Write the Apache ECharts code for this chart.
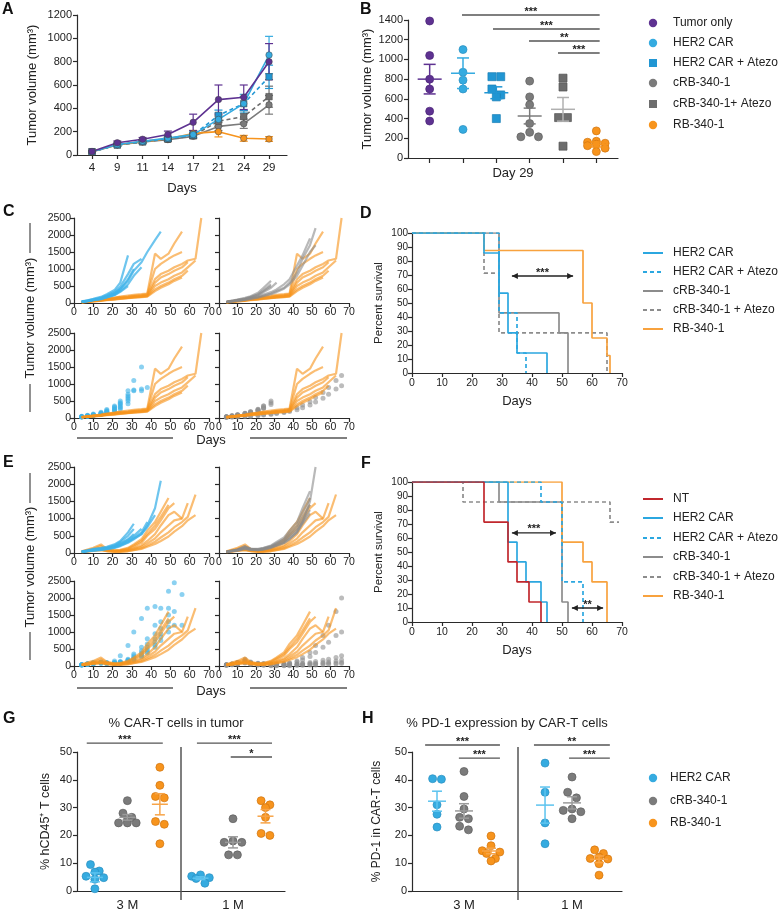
<!DOCTYPE html>
<html><head><meta charset="utf-8"><title>Figure</title>
<script src="https://cdn.jsdelivr.net/npm/echarts@6.0.0/dist/echarts.min.js"></script>
<style>html,body{margin:0;padding:0;background:#fff;}#c{width:784px;height:912px;}</style>
</head><body><div id="c"></div>
<script>
// ================= DATA =================
// Panel A : mean tumour volume (mm3) per day +/- SEM
const daysA = ['4','9','11','14','17','21','24','29'];
const aTumorOnly    = [30,105,135,175,280,475,495,800];
const aTumorOnlyErr = [8,15,15,30,70,125,105,155];
const aHer2         = [28,90,118,145,175,305,440,857];
const aHer2Err      = [8,12,12,15,25,55,80,160];
const aHer2Atezo    = [28,86,115,140,170,340,440,670];
const aHer2AtezoErr = [8,12,12,15,20,45,60,100];
const aCrb          = [28,86,112,132,160,245,268,430];
const aCrbErr       = [8,10,10,15,20,35,40,80];
const aCrbAtezo     = [28,86,112,135,165,290,330,500];
const aCrbAtezoErr  = [8,10,10,15,20,45,50,90];
const aRb           = [28,88,115,140,185,200,143,137];
const aRbErr        = [8,10,12,15,25,45,25,20];

// Panel B : day 29 individual tumours
const bGroups     = ['Tumor only','HER2 CAR','HER2 CAR + Atezo','cRB-340-1','cRB-340-1+ Atezo','RB-340-1'];
const bTumorOnly  = [1390,1040,800,700,475,375];
const bHer2       = [1100,870,790,700,290];
const bHer2Atezo  = [825,825,700,640,620,400];
const bCrb        = [780,620,540,350,260,215,215];
const bCrbAtezo   = [810,720,410,410,120];
const bRb         = [275,170,160,150,140,125,100,65];
const bMean       = [800,860,662,426,494,137];
const bSem        = [150,155,60,80,120,25];
const sigB = [
  {x1:0.97,x2:5.1,y:1451,t:'***'},{x1:1.9,x2:5.1,y:1309,t:'***'},
  {x1:2.98,x2:5.1,y:1187,t:'**'},{x1:3.85,x2:5.1,y:1065,t:'***'}];

// Panels C / E : individual tumour growth curves (days x mm3)
const spDays = [4,7,10,14,17,21,24,28,31,35,38,42,45,49,52,56,59,63,66];
const cRb1 = [30,50,70,100,130,160,190,220,240,260,280,1450,1300,1450,1750,2100];
const cRb2 = [30,50,70,90,120,150,170,190,210,230,260,1000,1150,1300,1400,1500];
const cRb3 = [25,45,65,85,110,140,160,180,200,220,240,700,850,950,1050,1150,1250,1300,2500];
const cRb4 = [25,40,60,80,100,120,140,160,180,200,220,600,750,850,950,1050,1200];
const cRb5 = [20,40,55,75,95,115,135,150,170,190,210,500,600,700,800,900,1050,1250];
const cRb6 = [20,35,50,70,90,110,130,150,165,180,200,400,500,600,700,800,950];
const cRb7 = [20,35,50,65,85,100,120,140,160,175,190,350,450,550,650,750];
const cRb8 = [25,40,60,80,110,140,180];
const cHer1 = [50,80,120,180,260,380,600,1400];
const cHer2 = [40,70,110,160,230,330,480,850,1150,1300];
const cHer3 = [40,60,90,140,200,300,420,650,950,1200,1500,1850,2100];
const cHer4 = [35,60,90,130,190,280,400,700,1000];
const cHer5 = [35,55,80,120,170,240,350,550,800,1050];
const cHer6 = [30,50,80,110,160,230,330,500];
const cHer7 = [40,60,90,130,180,260,380];
const cCrb1 = [40,70,100,150,200,300,450,650];
const cCrb2 = [35,60,90,130,180,260,380,550];
const cCrb3 = [35,60,90,120,170,240,350,500];
const cCrb4 = [30,55,80,110,160,220,320,450,600];
const cCrb5 = [30,50,70,100,140,190,250,320,400,550,700,1100,1400,1900];
const cCrb6 = [30,50,70,95,130,170,220,280,350,450,600,900,1300,1700,2200];
const cCrb7 = [25,45,65,90,120,160,200,260,320,420,550,800,1100,1500,1700];
const cHa1 = [50,80,120,170,250,350,500,800,1100,1500];
const cHa2 = [40,60,90,140,200,300,420,600,800,850,900];
const cHa3 = [40,70,100,150,220,320,450,700,820,800];
const cHa4 = [35,60,90,130,180,260,380,650];
const cHa5 = [35,55,80,120,170,250,330,550];
const cHa6 = [30,50,80,110,160,220,300,500];
const cHa7 = [30,50,70,100,140,190,260,420];
const cCa1 = [40,70,100,140,190,260,350];
const cCa2 = [35,60,90,130,170,230,300];
const cCa3 = [35,60,90,130,180,250,350,500];
const cCa4 = [30,55,80,120,160,220,300,450];
const cCa5 = [30,50,75,110,150,200,280,400];
const cCa6 = [20,30,40,50,60,80,100,120,150,180,220,300,380,480,600,750,900,1100,1250];
const cCa7 = [20,30,40,50,55,70,90,110,130,160,190,240,300,380,470,580,700,850,950];

const eRb1 = [50,100,150,250,120,80,90,150,250,400,650,900,1200,1600];
const eRb2 = [40,80,120,200,100,70,80,130,220,350,550,800,1050,1400];
const eRb3 = [40,70,100,150,90,60,70,110,180,300,500,700,950,1300,1450];
const eRb4 = [30,60,90,120,80,50,60,90,140,220,350,550,800,1100,1200,1000];
const eRb5 = [30,50,80,100,70,50,50,80,120,180,280,420,600,800,950,1000,1450];
const eRb6 = [25,45,70,90,60,40,40,60,90,140,220,330,450,600,750,900,1050,1700];
const eRb7 = [25,40,60,80,50,30,30,50,80,120,180,260,350,480,620,780,950,1100];
const eHer1 = [50,80,120,150,180,250,350,600,850];
const eHer2 = [40,70,100,130,160,220,320,500,700];
const eHer3 = [40,60,90,120,150,200,280,400,550];
const eHer4 = [35,60,90,110,140,190,260,380,500,700];
const eHer5 = [35,55,80,100,130,170,230,340,450,600,900];
const eHer6 = [30,50,70,90,120,160,220,320,420,550,750,1100];
const eHer7 = [30,50,70,90,110,150,200,300,400,550,800,1300,2100];
const eCrb1 = [40,70,100,200,120,100,120,180,250];
const eCrb2 = [40,70,100,180,130,120,150,220,320,450,650,900,1300,1800];
const eCrb3 = [35,60,90,160,120,110,140,200,290,400,580,800,1150,1600];
const eCrb4 = [35,60,90,150,110,100,130,190,270,370,520,720,1000,1400];
const eCrb5 = [30,55,80,140,100,90,120,170,240,330,460,650,900,1250];
const eCrb6 = [30,50,75,130,95,85,110,160,220,300,420,600,850,1150];
const eCrb7 = [30,50,70,120,90,80,100,150,210,290,400,600,900,1500,2500];
const eHa1 = [40,70,100,120,100,150,300,600,1000,1400,1700,1750];
const eHa2 = [40,60,90,110,90,100,130,200,350,550,800,1200,1700,2200,2450];
const eHa3 = [35,60,80,100,90,100,120,180,300,450,650,950,1300,1700];
const eHa4 = [35,55,80,100,80,90,110,160,250,380,550,800,1100,1500];
const eHa5 = [30,50,70,90,80,80,100,150,220,330,480,700,950,1300];
const eHa6 = [30,50,70,90,70,70,90,130,200,300,430,620,850,1150,1600,2100];
const eHa7 = [30,45,65,80,70,70,80,120,180,270,380,550,750,1000,1200,1200];
const eCa1 = [40,60,100,150,120];
const eCa2 = [40,60,100,200,100,80,70,60,60,70,90,150,250,400,600,900,1200,1600,2000];
const eCa3 = [35,55,90,180,90,70,60,50,50,60,80,120,180,280,400,550,700,900,1000];
const eCa4 = [30,50,80,150,80,60,50,40,40,40,50,60,80,100,130,170,200,250,300];
const eCa5 = [30,45,70,120,70,50,40,30,30,30,40,50,60,70,80,100,120,150,180];
const eCa6 = [25,40,60,100,60,40,30,20,20,20,20,30,40,50,60,70,80,90,100];
const eCa7 = [25,40,60,90,50,30,20,10,10,10,10,20,20,30,30,40,50,60,70];

// Panel D : survival (day of change, percent)
const dHer2Days = [0,24,29,32,35,45];      const dHer2Pct = [100,85.7,57.1,28.6,14.3,0];
const dHer2AtezoDays = [0,29,35,38];       const dHer2AtezoPct = [100,42.9,14.3,0];
const dCrbDays = [0,29,49,52];             const dCrbPct = [100,42.9,28.6,0];
const dCrbAtezoDays = [0,24,29,65];        const dCrbAtezoPct = [100,71.4,28.6,0];
const dRbDays = [0,24,57,60,65,66];        const dRbPct = [100,87.5,50,25,12.5,0];
const arrowsD = [{x1:33.3,x2:53.7,y:69.3,t:'***'}];

// Panel F : survival
const fNtDays = [0,24,32,35,39,43];        const fNtPct = [100,71.4,42.9,28.6,14.3,0];
const fHer2Days = [0,32,35,38,43,45];      const fHer2Pct = [100,57.1,42.9,28.6,14.3,0];
const fHer2AtezoDays = [0,43,50,57];       const fHer2AtezoPct = [100,85.7,28.6,0];
const fCrbDays = [0,29,50,52];             const fCrbPct = [100,85.7,14.3,0];
const fCrbAtezoDays = [0,17,66,69];        const fCrbAtezoPct = [100,85.7,71.4,71.4];
const fRbDays = [0,50,57,60,65];           const fRbPct = [100,57.1,42.9,28.6,0];
const arrowsF = [{x1:33.3,x2:48,y:63.6,t:'***'},{x1:53.3,x2:63.7,y:10,t:'**'}];

// Panel G : % CAR-T cells in tumour
const gXLabels = ['3 M','1 M'];
const gHer2_3M = [9.5,7.2,6.8,5.3,4.8,4.2,0.8];
const gCrb_3M  = [32.5,28,26.5,25.5,24.5,24.5,24.5];
const gRb_3M   = [44.5,38,34,33.5,25,24,17];
const gHer2_1M = [5.8,5.3,4.8,4.5,2.8];
const gCrb_1M  = [26,18,17.5,17.5,13,13];
const gRb_1M   = [32.5,31,30,26.5,20.7,20];
const gMean = [4.9,26.5,31.2,4.6,17.5,26.9];
const gSem  = [1.6,1.0,3.8,0.5,2.0,2.4];
const sigG = [{x1:0.75,x2:3.09,y:53.2,t:'***'},{x1:4.14,x2:6.45,y:53.2,t:'***'},{x1:5.18,x2:6.45,y:48.2,t:'*'}];

// Panel H : % PD-1 in CAR-T cells
const hHer2_3M = [40.4,40.2,31,27.6,23];
const hCrb_3M  = [43,34,29.5,26.5,26,23.3,22];
const hRb_3M   = [19.8,16.3,14.5,14,13.5,11.7,10.8];
const hHer2_1M = [46,35.5,24.5,17];
const hCrb_1M  = [41,35.5,33.5,29.5,29,28.5,26];
const hRb_1M   = [14.8,13.5,12.2,11.7,11.5,9.8,5.7];
const hMean = [32.3,28.8,14.4,30.9,31.7,11.4];
const hSem  = [3.6,2.6,1.0,6.5,2.2,1.2];
const sigH = [{x1:0.56,x2:3.33,y:52.5,t:'***'},{x1:1.81,x2:3.33,y:47.8,t:'***'},
              {x1:4.59,x2:7.4,y:52.5,t:'**'},{x1:5.89,x2:7.4,y:47.8,t:'***'}];

// ================= STYLE / LAYOUT =================
const FONT = "'Liberation Sans', Arial, Helvetica, sans-serif";
const TXT = '#222', AX = '#2a2a2a';
const PURPLE = '#5e3291', BLUE = '#35abe0', BLUE_SQ = '#2196d3', GRAY = '#7b7b7b', GRAY_SQ = '#6d6d6d',
      ORANGE = '#f7941d', RED = '#c1272d';
const gPos = [1,2,3,4.25,5.25,6.25];
const hPos = [1,2,3,5,6,7];
const plain = v => String(v);

function merge(a, b){ const o = Array.isArray(a)?a.slice():Object.assign({}, a);
  for (const k in b){ const v=b[k]; if (v && typeof v==='object' && !Array.isArray(v) && typeof o[k]==='object' && o[k] && !Array.isArray(o[k])) o[k]=merge(o[k],v); else o[k]=v; } return o; }
const axLine = {color:AX, width:1.2};
function ax(gi, o){ return merge({gridIndex:gi, type:'value', axisLine:{show:true,onZero:false,lineStyle:axLine},
  axisTick:{show:true,length:4,lineStyle:axLine}, splitLine:{show:false},
  axisLabel:{color:TXT,fontFamily:FONT,fontSize:10.5,margin:5,formatter:plain},
  nameTextStyle:{color:TXT,fontFamily:FONT,fontSize:13}}, o||{}); }

const grids = [
  {left:77,top:15,width:210,height:140},   // 0 A
  {left:408,top:20,width:210,height:138},  // 1 B
  {left:74,top:218,width:135,height:85},   // 2 C TL
  {left:219,top:218,width:130,height:85},  // 3 C TR
  {left:74,top:333,width:135,height:85},   // 4 C BL
  {left:219,top:333,width:130,height:85},  // 5 C BR
  {left:412,top:233,width:210,height:140}, // 6 D
  {left:74,top:467,width:135,height:86},   // 7 E TL
  {left:219,top:467,width:130,height:86},  // 8 E TR
  {left:74,top:581,width:135,height:85},   // 9 E BL
  {left:219,top:581,width:130,height:85},  // 10 E BR
  {left:412,top:482,width:210,height:140}, // 11 F
  {left:77,top:752,width:208,height:139},  // 12 G
  {left:412,top:752,width:210,height:139}  // 13 H
];

const xAxes = [], yAxes = [];
const idxA = daysA.map((d,i)=>i);
xAxes.push(ax(0,{min:-0.593,max:7.71,axisTick:{customValues:idxA},axisLabel:{customValues:idxA,fontSize:11.5,margin:7,formatter:v=>daysA[Math.round(v)]},
  name:'Days',nameLocation:'middle',nameGap:27}));
yAxes.push(ax(0,{min:0,max:1200,interval:200,axisLabel:{fontSize:11},name:'Tumor volume (mm³)',nameLocation:'middle',nameGap:38,nameRotate:90}));
const idxB = bGroups.map((d,i)=>i);
xAxes.push(ax(1,{min:-0.65,max:5.65,axisTick:{customValues:idxB,length:5},axisLabel:{show:false},name:'Day 29',nameLocation:'middle',nameGap:9}));
yAxes.push(ax(1,{min:0,max:1400,interval:200,axisLabel:{fontSize:11},name:'Tumor volume (mm³)',nameLocation:'middle',nameGap:34,nameRotate:90}));
function pushSp(gi){
  const right = (gi===3||gi===5||gi===8||gi===10);
  xAxes.push(ax(gi,{min:0,max:70,interval:10,axisLabel:{fontSize:10.5,margin:4}}));
  yAxes.push(ax(gi,{min:0,max:2500,interval:500,axisLabel:{show:!right,fontSize:10.5,margin:3}}));
}
[2,3,4,5].forEach(pushSp);
xAxes.push(ax(6,{min:0,max:70,interval:10,name:'Days',nameLocation:'middle',nameGap:22}));
yAxes.push(ax(6,{min:0,max:100,interval:10,axisLabel:{fontSize:10,margin:4},name:'Percent survival',nameLocation:'middle',nameGap:27,nameRotate:90,nameTextStyle:{fontSize:11.5}}));
[7,8,9,10].forEach(pushSp);
xAxes.push(ax(11,{min:0,max:70,interval:10,name:'Days',nameLocation:'middle',nameGap:22}));
yAxes.push(ax(11,{min:0,max:100,interval:10,axisLabel:{fontSize:10,margin:4},name:'Percent survival',nameLocation:'middle',nameGap:27,nameRotate:90,nameTextStyle:{fontSize:11.5}}));
xAxes.push(ax(12,{min:0.45,max:6.85,axisTick:{show:false},axisLabel:{customValues:[2,5.25],fontSize:13,margin:8,formatter:v=>v<3.6?gXLabels[0]:gXLabels[1]}}));
yAxes.push(ax(12,{min:0,max:50,interval:10,axisLabel:{fontSize:11},name:'% hCD45⁺ T cells',nameLocation:'middle',nameGap:25,nameRotate:90,nameTextStyle:{fontSize:12.5}}));
xAxes.push(ax(13,{min:0.074,max:7.85,axisTick:{show:false},axisLabel:{customValues:[2,6],fontSize:13,margin:8,formatter:v=>v<4?gXLabels[0]:gXLabels[1]}}));
yAxes.push(ax(13,{min:0,max:50,interval:10,axisLabel:{fontSize:11},name:'% PD-1 in CAR-T cells',nameLocation:'middle',nameGap:29,nameRotate:90,nameTextStyle:{fontSize:12}}));

const series = [];
// ---------- Panel A ----------
const aSets = [
  {v:aCrb,e:aCrbErr,c:GRAY,s:'circle',d:'solid'},
  {v:aCrbAtezo,e:aCrbAtezoErr,c:GRAY_SQ,s:'rect',d:[4,3]},
  {v:aRb,e:aRbErr,c:ORANGE,s:'circle',d:'solid'},
  {v:aHer2Atezo,e:aHer2AtezoErr,c:BLUE_SQ,s:'rect',d:[4,3]},
  {v:aHer2,e:aHer2Err,c:BLUE,s:'circle',d:'solid'},
  {v:aTumorOnly,e:aTumorOnlyErr,c:PURPLE,s:'circle',d:'solid'}];
function errBar(color, cap){ return function(params, api){
  const x=api.value(0), lo=api.value(1), hi=api.value(2);
  const a=api.coord([x,lo]), b=api.coord([x,hi]); const st={stroke:color,lineWidth:1.2,fill:null};
  return {type:'group',children:[
    {type:'line',shape:{x1:a[0],y1:a[1],x2:b[0],y2:b[1]},style:st},
    {type:'line',shape:{x1:b[0]-cap,y1:b[1],x2:b[0]+cap,y2:b[1]},style:st},
    {type:'line',shape:{x1:a[0]-cap,y1:a[1],x2:a[0]+cap,y2:a[1]},style:st}]};
};}
aSets.forEach(S=>{
  series.push({type:'custom',xAxisIndex:0,yAxisIndex:0,renderItem:errBar(S.c,4),silent:true,
    data:S.v.map((v,i)=>[i,v-S.e[i],v+S.e[i]])});
  series.push({type:'line',xAxisIndex:0,yAxisIndex:0,data:S.v.map((v,i)=>[i,v]),symbol:S.s,symbolSize:6.5,showSymbol:true,
    lineStyle:{color:S.c,width:1.6,type:S.d},itemStyle:{color:S.c,borderColor:'#444',borderWidth:0.5},silent:true});
});

// ---------- swarm layout helper ----------
function swarm(vals, pxY, pxX, sym, maxRow){
  const idx = vals.map((v,i)=>i).sort((a,b)=>vals[b]-vals[a]);
  const off = new Array(vals.length).fill(0);
  let row = [];
  const flush = ()=>{ const n=row.length; const slots=[]; for(let j=0;j<n;j++) slots.push(j-(n-1)/2);
    slots.sort((p,q)=>Math.abs(p)-Math.abs(q)||p-q);
    row.forEach((k,j)=>{ off[k]=slots[j]*sym*1.1/pxX; }); row=[]; };
  idx.forEach(k=>{ if(row.length && (Math.abs(vals[row[0]]-vals[k])*pxY>=sym*0.8 || row.length>=maxRow)) flush(); row.push(k); });
  flush(); return off;
}
function dots(gi, pos, vals, color, sym, pxY, pxX, shape, border){
  const off = swarm(vals, pxY, pxX, 8, 3);
  series.push({type:'scatter',xAxisIndex:gi,yAxisIndex:gi,symbol:shape||'circle',symbolSize:sym,silent:true,
    itemStyle:{color:color,borderColor:border||color,borderWidth:0.7,opacity:1},
    data:vals.map((v,i)=>[pos+off[i],v])});
}
function meanSem(gi, pos, means, sems, colors, mh, ch, lw){
  series.push({type:'custom',xAxisIndex:gi,yAxisIndex:gi,silent:true,z:5,
    data:means.map((m,i)=>[pos[i],m,m-sems[i],m+sems[i],i]),
    renderItem:function(params, api){
      const c=colors[api.value(4)]; const x=api.value(0);
      const pm=api.coord([x,api.value(1)]), pl=api.coord([x,api.value(2)]), ph=api.coord([x,api.value(3)]);
      const st={stroke:c,lineWidth:lw,fill:null};
      return {type:'group',children:[
        {type:'line',shape:{x1:pm[0]-mh,y1:pm[1],x2:pm[0]+mh,y2:pm[1]},style:st},
        {type:'line',shape:{x1:pl[0],y1:pl[1],x2:ph[0],y2:ph[1]},style:st},
        {type:'line',shape:{x1:ph[0]-ch,y1:ph[1],x2:ph[0]+ch,y2:ph[1]},style:st},
        {type:'line',shape:{x1:pl[0]-ch,y1:pl[1],x2:pl[0]+ch,y2:pl[1]},style:st}]};
    }});
}
// ---------- Panel B ----------
const bPxY = 138/1400, bPxX = 210/6.3;
dots(1,0,bTumorOnly,PURPLE,8,bPxY,bPxX,'circle','#4a2477');
dots(1,1,bHer2,BLUE,8,bPxY,bPxX,'circle','#2b8fc0');
dots(1,2,bHer2Atezo,BLUE_SQ,8,bPxY,bPxX,'rect','#1a7fb6');
dots(1,3,bCrb,GRAY,8,bPxY,bPxX,'circle','#5e5e5e');
dots(1,4,bCrbAtezo,GRAY_SQ,8,bPxY,bPxX,'rect','#555');
dots(1,5,bRb,ORANGE,8,bPxY,bPxX,'circle','#d07410');
meanSem(1,[0,1,2,3,4,5],bMean,bSem,[PURPLE,BLUE,BLUE_SQ,GRAY,'#b0b0b0',ORANGE],12,6,1.5);

// ---------- Panels C / E ----------
const toPts = vals => vals.map((v,i)=>[spDays[i],v]);
function spLines(gi, list, color, op){ list.forEach(v=>series.push({type:'line',xAxisIndex:gi,yAxisIndex:gi,data:toPts(v),
  symbol:'none',showSymbol:false,silent:true,lineStyle:{color:color,width:2.2,opacity:op||0.62}})); }
function spDots(gi, list, color){ list.forEach(v=>series.push({type:'scatter',xAxisIndex:gi,yAxisIndex:gi,data:toPts(v),
  symbolSize:5,silent:true,itemStyle:{color:color,opacity:0.6}})); }
const cRbMice = [cRb1,cRb2,cRb3,cRb4,cRb5,cRb6,cRb7,cRb8];
const eRbMice = [eRb1,eRb2,eRb3,eRb4,eRb5,eRb6,eRb7];
spLines(2,cRbMice,ORANGE); spLines(2,[cHer1,cHer2,cHer3,cHer4,cHer5,cHer6,cHer7],'#3db2e8',0.75);
spLines(3,cRbMice,ORANGE); spLines(3,[cCrb1,cCrb2,cCrb3,cCrb4,cCrb5,cCrb6,cCrb7],'#8a8a8a',0.6);
spLines(4,cRbMice,ORANGE); spDots(4,[cHa1,cHa2,cHa3,cHa4,cHa5,cHa6,cHa7],'#3db2e8');
spLines(5,cRbMice,ORANGE); spDots(5,[cCa1,cCa2,cCa3,cCa4,cCa5,cCa6,cCa7],'#8f8f8f');
spLines(7,eRbMice,ORANGE); spLines(7,[eHer1,eHer2,eHer3,eHer4,eHer5,eHer6,eHer7],'#3db2e8',0.75);
spLines(8,eRbMice,ORANGE); spLines(8,[eCrb1,eCrb2,eCrb3,eCrb4,eCrb5,eCrb6,eCrb7],'#8a8a8a',0.6);
spLines(9,eRbMice,ORANGE); spDots(9,[eHa1,eHa2,eHa3,eHa4,eHa5,eHa6,eHa7],'#3db2e8');
spLines(10,eRbMice,ORANGE); spDots(10,[eCa1,eCa2,eCa3,eCa4,eCa5,eCa6,eCa7],'#8f8f8f');

// ---------- Panels D / F ----------
function surv(gi, days, pct, color, dash){
  series.push({type:'line',step:'end',xAxisIndex:gi,yAxisIndex:gi,symbol:'none',showSymbol:false,silent:true,
    data:days.map((d,i)=>[d,pct[i]]),lineStyle:{color:color,width:1.7,type:dash||'solid'}});
}
surv(6,dCrbDays,dCrbPct,'#8c8c8c');
surv(6,dCrbAtezoDays,dCrbAtezoPct,'#8c8c8c',[4,3]);
surv(6,dRbDays,dRbPct,'#f8a23e');
surv(6,dHer2Days,dHer2Pct,'#2ba7e0');
surv(6,dHer2AtezoDays,dHer2AtezoPct,'#2ba7e0',[4,3]);
surv(11,fCrbDays,fCrbPct,'#8c8c8c');
surv(11,fCrbAtezoDays,fCrbAtezoPct,'#8c8c8c',[4,3]);
surv(11,fRbDays,fRbPct,'#f8a23e');
surv(11,fHer2Days,fHer2Pct,'#2ba7e0');
surv(11,fHer2AtezoDays,fHer2AtezoPct,'#2ba7e0',[4,3]);
surv(11,fNtDays,fNtPct,RED);

// ---------- Panel G ----------
const gPxY = 139/50, gPxX = 208/6.4;
[[gHer2_3M,BLUE,'#2b8fc0'],[gCrb_3M,GRAY,'#5e5e5e'],[gRb_3M,ORANGE,'#d07410'],
 [gHer2_1M,BLUE,'#2b8fc0'],[gCrb_1M,GRAY,'#5e5e5e'],[gRb_1M,ORANGE,'#d07410']].forEach((g,i)=>dots(12,gPos[i],g[0],g[1],8,gPxY,gPxX,'circle',g[2]));
meanSem(12,gPos,gMean,gSem,['#5cc3ef','#9b9b9b','#f7a448','#5cc3ef','#9b9b9b','#f7a448'],8,5,1.5);
// ---------- Panel H ----------
const hPxX = 210/7.776;
[[hHer2_3M,BLUE,'#2b8fc0'],[hCrb_3M,GRAY,'#5e5e5e'],[hRb_3M,ORANGE,'#d07410'],
 [hHer2_1M,BLUE,'#2b8fc0'],[hCrb_1M,GRAY,'#5e5e5e'],[hRb_1M,ORANGE,'#d07410']].forEach((g,i)=>dots(13,hPos[i],g[0],g[1],8,gPxY,hPxX,'circle',g[2]));
meanSem(13,hPos,hMean,hSem,['#5cc3ef','#9b9b9b','#f7a448','#5cc3ef','#9b9b9b','#f7a448'],9,5,1.5);

const chart = echarts.init(document.getElementById('c'), null, {renderer:'canvas', width:784, height:912});
chart.setOption({animation:false, backgroundColor:'#fff', textStyle:{fontFamily:FONT},
  grid:grids.map(g=>Object.assign({containLabel:false},g)), xAxis:xAxes, yAxis:yAxes, series:series});

// ================= ANNOTATIONS (graphic) =================
const gfx = [];
const T = (x,y,text,o)=>({type:'text',x:x,y:y,silent:true,z:100,style:Object.assign({text:text,fill:TXT,fontFamily:FONT,fontSize:12,align:'left',verticalAlign:'middle'},o||{})});
const L = (x1,y1,x2,y2,o)=>({type:'line',silent:true,z:100,shape:{x1:x1,y1:y1,x2:x2,y2:y2},style:Object.assign({stroke:'#444',lineWidth:1.3},o||{})});
[['A',2,2],['B',360,2],['C',3,204],['D',360,206],['E',3,455],['F',361,456],['G',3,711],['H',362,711]].forEach(p=>
  gfx.push(T(p[1],p[2],p[0],{fontSize:16,fontWeight:'bold',verticalAlign:'top',fill:'#111'})));
[[318,223,253,384,412],[567,473,503,632,660]].forEach(r=>{
  gfx.push(Object.assign(T(30,r[0],'Tumor volume (mm³)',{align:'center',fontSize:13}),{rotation:Math.PI/2}));
  gfx.push(L(30,r[1],30,r[2],{stroke:'#555'})); gfx.push(L(30,r[3],30,r[4],{stroke:'#555'}));
});
[[440,438],[691,688]].forEach(r=>{
  gfx.push(T(211,r[0],'Days',{align:'center',fontSize:13}));
  gfx.push(L(77,r[1],173,r[1],{stroke:'#555'})); gfx.push(L(250,r[1],347,r[1],{stroke:'#555'}));
});
gfx.push(T(176,723,'% CAR-T cells in tumor',{align:'center',fontSize:13}));
gfx.push(T(507,723,'% PD-1 expression by CAR-T cells',{align:'center',fontSize:13}));
gfx.push(L(181,747,181,900,{stroke:'#555',lineWidth:1.5}));
gfx.push(L(518,747,518,900,{stroke:'#555',lineWidth:1.5}));
const legB = [['Tumor only',PURPLE,'c'],['HER2 CAR',BLUE,'c'],['HER2 CAR + Atezo',BLUE_SQ,'s'],['cRB-340-1',GRAY,'c'],['cRB-340-1+ Atezo',GRAY_SQ,'s'],['RB-340-1',ORANGE,'c']];
const legBY = [23,43,63,83,104,125];
legB.forEach((l,i)=>{ const y=legBY[i];
  gfx.push(l[2]==='c'?{type:'circle',silent:true,z:100,shape:{cx:653,cy:y,r:4.2},style:{fill:l[1]}}:
                      {type:'rect',silent:true,z:100,shape:{x:649,y:y-4,width:8,height:8},style:{fill:l[1]}});
  gfx.push(T(673,y,l[0])); });
const legD = [['HER2 CAR','#2ba7e0',null],['HER2 CAR + Atezo','#2ba7e0',[4,3]],['cRB-340-1','#8c8c8c',null],['cRB-340-1 + Atezo','#8c8c8c',[4,3]],['RB-340-1','#f8a23e',null]];
const legDY = [253,272,291,310,329];
legD.forEach((l,i)=>{ const y=legDY[i]; gfx.push(L(643,y,663,y,{stroke:l[1],lineWidth:2,lineDash:l[2]})); gfx.push(T(673,y,l[0])); });
const legF = [['NT',RED,null]].concat(legD);
const legFY = [499,518,538,557,577,596];
legF.forEach((l,i)=>{ const y=legFY[i]; gfx.push(L(643,y,663,y,{stroke:l[1],lineWidth:2,lineDash:l[2]})); gfx.push(T(673,y,l[0])); });
const legH = [['HER2 CAR',BLUE],['cRB-340-1',GRAY],['RB-340-1',ORANGE]];
const legHY = [778,801,823];
legH.forEach((l,i)=>{ const y=legHY[i]; gfx.push({type:'circle',silent:true,z:100,shape:{cx:653,cy:y,r:4.2},style:{fill:l[1]}}); gfx.push(T(670,y,l[0])); });
function sig(gi, list){ list.forEach(s=>{ const a=chart.convertToPixel({gridIndex:gi},[s.x1,s.y]), b=chart.convertToPixel({gridIndex:gi},[s.x2,s.y]);
  gfx.push(L(a[0],a[1],b[0],b[1],{stroke:'#555',lineWidth:1.4}));
  gfx.push(T((a[0]+b[0])/2,a[1]+2,s.t,{align:'center',verticalAlign:'bottom',fontSize:11,fontWeight:'bold',fill:'#222'})); }); }
sig(1,sigB); sig(12,sigG); sig(13,sigH);
function arrows(gi, list){ list.forEach(s=>{ const a=chart.convertToPixel({gridIndex:gi},[s.x1,s.y]), b=chart.convertToPixel({gridIndex:gi},[s.x2,s.y]);
  gfx.push(L(a[0],a[1],b[0],b[1],{stroke:'#222',lineWidth:1.3}));
  gfx.push({type:'polygon',silent:true,z:100,shape:{points:[[a[0],a[1]],[a[0]+6,a[1]-3],[a[0]+6,a[1]+3]]},style:{fill:'#222'}});
  gfx.push({type:'polygon',silent:true,z:100,shape:{points:[[b[0],b[1]],[b[0]-6,b[1]-3],[b[0]-6,b[1]+3]]},style:{fill:'#222'}});
  gfx.push(T((a[0]+b[0])/2,a[1]+2,s.t,{align:'center',verticalAlign:'bottom',fontSize:11,fontWeight:'bold'})); }); }
arrows(6,arrowsD); arrows(11,arrowsF);
chart.setOption({graphic:gfx});
</script></body></html>
